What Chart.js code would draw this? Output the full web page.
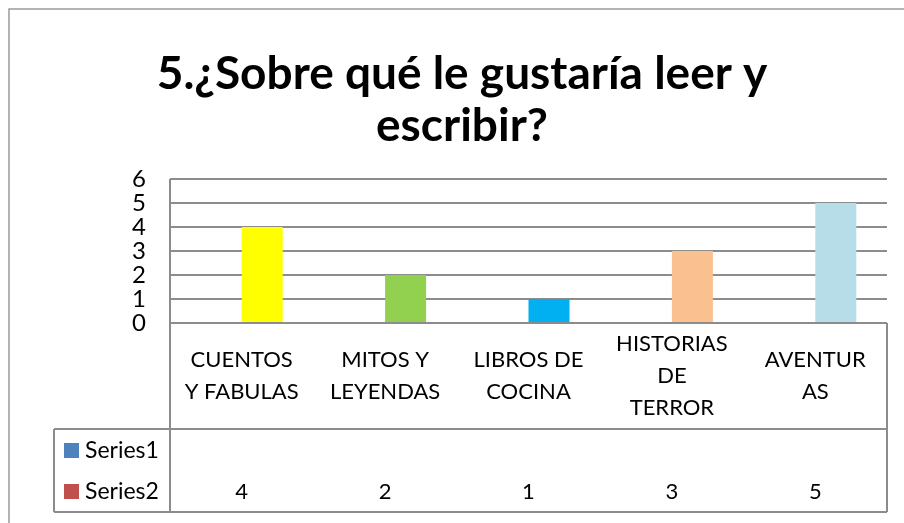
<!DOCTYPE html>
<html>
<head>
<meta charset="utf-8">
<script src="https://cdn.jsdelivr.net/npm/chart.js@4"></script>
<style>
  html, body { margin: 0; padding: 0; background: #fff; }
  #wrap { width: 904px; height: 523px; }
</style>
</head>
<body>
<div id="wrap"><canvas id="chart" width="904" height="523"></canvas></div>
<script>
"use strict";

const titleLines = ["5.¿Sobre qué le gustaría leer y", "escribir?"];
const categories = [
  ["CUENTOS", "Y FABULAS"],
  ["MITOS Y", "LEYENDAS"],
  ["LIBROS DE", "COCINA"],
  ["HISTORIAS", "DE", "TERROR"],
  ["AVENTUR", "AS"],
];
const series1 = [null, null, null, null, null];
const series2 = [4, 2, 1, 3, 5];
const barColors = ["#FFFF00", "#92D050", "#00B0F0", "#FAC090", "#B7DEE8"];
const seriesNames = ["Series1", "Series2"];
const seriesKeyColors = ["#4F81BD", "#C0504D"];
const yTicks = [0, 1, 2, 3, 4, 5, 6];

const LINE = "#8c8c8c";
const FONT = "Lato, 'Open Sans', sans-serif";

// rows of the data table under the plot
const TABLE_LEFT = 54;
const ROW_CAT_BOTTOM = 429;
const TABLE_BOTTOM = 512;

const tablePlugin = {
  id: "tablePlugin",
  beforeDraw(chart) {
    const ctx = chart.ctx;
    ctx.save();
    ctx.strokeStyle = "#9a9a9a";
    ctx.lineWidth = 1.5;
    ctx.beginPath();
    ctx.moveTo(9, 523);
    ctx.lineTo(9, 9);
    ctx.lineTo(904, 9);
    ctx.stroke();
    ctx.restore();
  },
  afterDraw(chart) {
    const ctx = chart.ctx;
    const area = chart.chartArea;
    const x = chart.scales.x;
    const L = area.left, R = area.right, B = area.bottom;
    ctx.save();

    // title
    ctx.fillStyle = "#000";
    ctx.textAlign = "center";
    ctx.textBaseline = "alphabetic";
    ctx.font = "bold 46px " + FONT;
    ctx.fillText(titleLines[0], 462, 89);
    ctx.fillText(titleLines[1], 462, 141);

    // table grid
    ctx.strokeStyle = LINE;
    ctx.lineWidth = 2;
    ctx.beginPath();
    ctx.moveTo(L, area.top); ctx.lineTo(L, TABLE_BOTTOM);
    ctx.moveTo(R, B); ctx.lineTo(R, TABLE_BOTTOM);
    ctx.moveTo(TABLE_LEFT, ROW_CAT_BOTTOM); ctx.lineTo(R, ROW_CAT_BOTTOM);
    ctx.moveTo(TABLE_LEFT, TABLE_BOTTOM); ctx.lineTo(R, TABLE_BOTTOM);
    ctx.moveTo(TABLE_LEFT, ROW_CAT_BOTTOM); ctx.lineTo(TABLE_LEFT, TABLE_BOTTOM);
    ctx.stroke();

    // category labels
    ctx.fillStyle = "#000";
    ctx.font = "22px " + FONT;
    ctx.textBaseline = "middle";
    const lh = 32;
    const rowMid = (B + ROW_CAT_BOTTOM) / 2;
    categories.forEach((lines, i) => {
      const cx = x.getPixelForValue(i);
      const y0 = rowMid - (lines.length - 1) * lh / 2;
      lines.forEach((t, j) => ctx.fillText(t, cx, y0 + j * lh));
    });

    // series rows
    const rowY = [451, 492];
    [series1, series2].forEach((vals, r) => {
      ctx.fillStyle = seriesKeyColors[r];
      ctx.fillRect(64, rowY[r] - 8, 15, 15);
      ctx.fillStyle = "#000";
      ctx.textAlign = "left";
      ctx.font = "23px " + FONT;
      ctx.fillText(seriesNames[r], 85, rowY[r]);
      ctx.textAlign = "center";
      ctx.font = "22px " + FONT;
      vals.forEach((v, i) => {
        if (v !== null) ctx.fillText(String(v), x.getPixelForValue(i), rowY[r]);
      });
    });
    ctx.restore();
  },
};

new Chart(document.getElementById("chart"), {
  type: "bar",
  data: {
    labels: categories.map((c) => c.join(" ")),
    datasets: [
      { label: seriesNames[0], data: series1, backgroundColor: seriesKeyColors[0] },
      { label: seriesNames[1], data: series2, backgroundColor: barColors },
    ],
  },
  options: {
    responsive: false,
    animation: false,
    events: [],
    layout: { padding: { top: 179, right: 17, bottom: 200, left: 0 } },
    datasets: { bar: { categoryPercentage: 0.572, barPercentage: 1.0 } },
    plugins: { legend: { display: false }, title: { display: false }, tooltip: { enabled: false } },
    scales: {
      x: {
        ticks: { display: false },
        grid: { display: false },
        border: { display: false },
        afterFit: (s) => { s.height = 0; },
      },
      y: {
        min: 0,
        max: 6,
        afterBuildTicks: (s) => { s.ticks = yTicks.map((v) => ({ value: v })); },
        ticks: { color: "#000", font: { family: FONT, size: 24 }, padding: 24, autoSkip: false },
        grid: { color: LINE, lineWidth: 2, drawTicks: false },
        border: { display: false },
        afterFit: (s) => { s.width = 170; },
      },
    },
  },
  plugins: [tablePlugin],
});
</script>
</body>
</html>
